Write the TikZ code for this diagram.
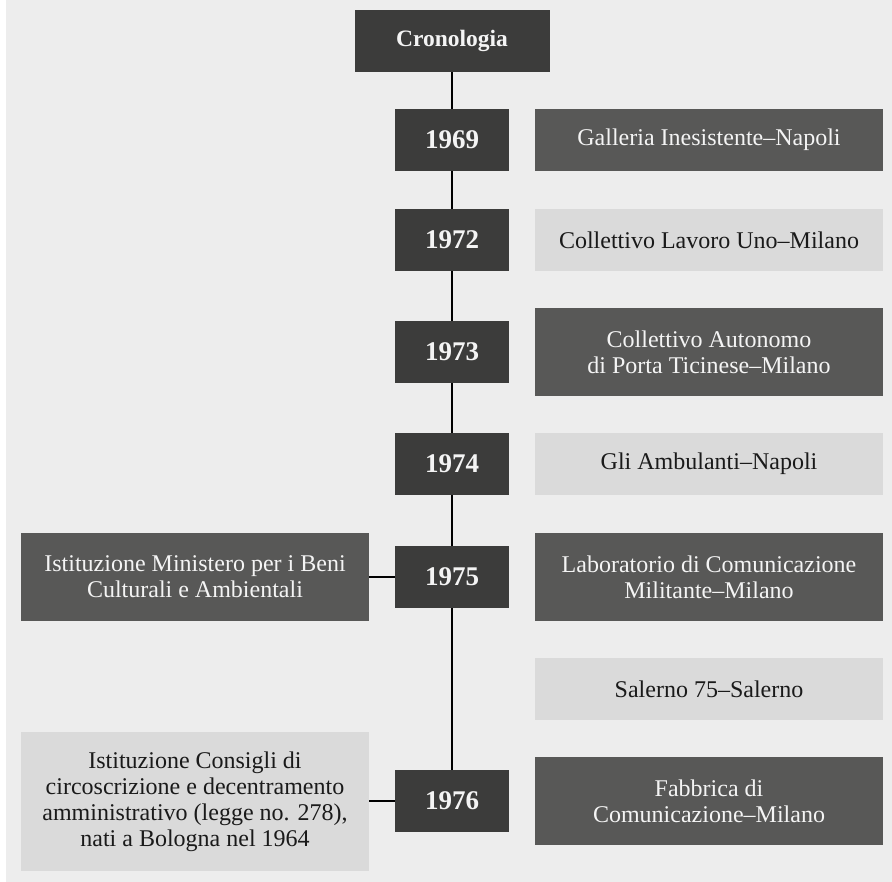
\documentclass[tikz,border=0pt]{standalone}
\usepackage{fontspec}
\setmainfont{Liberation Serif}
\definecolor{bgc}{HTML}{EDEDED}
\definecolor{yearc}{HTML}{3C3C3B}
\definecolor{darkc}{HTML}{585857}
\definecolor{lightc}{HTML}{DADADA}
\definecolor{wtext}{HTML}{F4F4F4}
\definecolor{btext}{HTML}{1A1A1A}
\tikzset{
  box/.style={rectangle, inner sep=0pt, align=center, font=\fontsize{24}{26}\selectfont},
  yearbox/.style={box, fill=yearc, text=wtext, minimum width=114pt, minimum height=62pt, font=\fontsize{27}{28}\selectfont\bfseries},
  darkbox/.style={box, fill=darkc, text=wtext, minimum width=348pt},
  lightbox/.style={box, fill=lightc, text=btext, minimum width=348pt},
  tline/.style={line width=2pt, draw=black}
}
\begin{document}
\begin{tikzpicture}[x=1pt, y=-1pt]
\useasboundingbox (0,0) rectangle (892,882);
\fill[bgc] (6,0) rectangle (892,882);
% header
\node[box, fill=yearc, text=wtext, minimum width=195pt, minimum height=62pt, font=\fontsize{23.5}{26}\selectfont\bfseries] (cron) at (452,41) {Cronologia};
% years
\node[yearbox] (y69) at (452,140) {1969};
\node[yearbox] (y72) at (452,240) {1972};
\node[yearbox] (y73) at (452,352) {1973};
\node[yearbox] (y74) at (452,464) {1974};
\node[yearbox] (y75) at (452,577) {1975};
\node[yearbox] (y76) at (452,801) {1976};
% right boxes
\node[darkbox, minimum height=62pt] (galleria) at (709,140) {Galleria Inesistente–Napoli};
\node[lightbox, minimum height=62pt] (lavoro) at (709,240) {Collettivo Lavoro Uno–Milano};
\node[darkbox, minimum height=88pt] (autonomo) at (709,352) {Collettivo Autonomo\\di Porta Ticinese–Milano};
\node[lightbox, minimum height=62pt] (ambulanti) at (709,464) {Gli Ambulanti–Napoli};
\node[darkbox, minimum height=88pt] (laboratorio) at (709,577) {Laboratorio di Comunicazione\\Militante–Milano};
\node[lightbox, minimum height=62pt] (salerno) at (709,689) {Salerno 75–Salerno};
\node[darkbox, minimum height=88pt] (fabbrica) at (709,801) {Fabbrica di\\Comunicazione–Milano};
% left boxes
\node[darkbox, minimum height=88pt] (ministero) at (195,577) {Istituzione Ministero per i Beni\\Culturali e Ambientali};
\node[lightbox, minimum height=139pt] (consigli) at (195,801.5) {Istituzione Consigli di\\circoscrizione e decentramento\\amministrativo (legge no. 278),\\nati a Bologna nel 1964};
% timeline
\draw[tline] (cron) -- (y69);
\draw[tline] (y69) -- (y72);
\draw[tline] (y72) -- (y73);
\draw[tline] (y73) -- (y74);
\draw[tline] (y74) -- (y75);
\draw[tline] (y75) -- (y76);
\draw[tline] (ministero.east) -- (y75.west);
\draw[tline] (consigli.east |- y76.west) -- (y76.west);
\end{tikzpicture}
\end{document}
